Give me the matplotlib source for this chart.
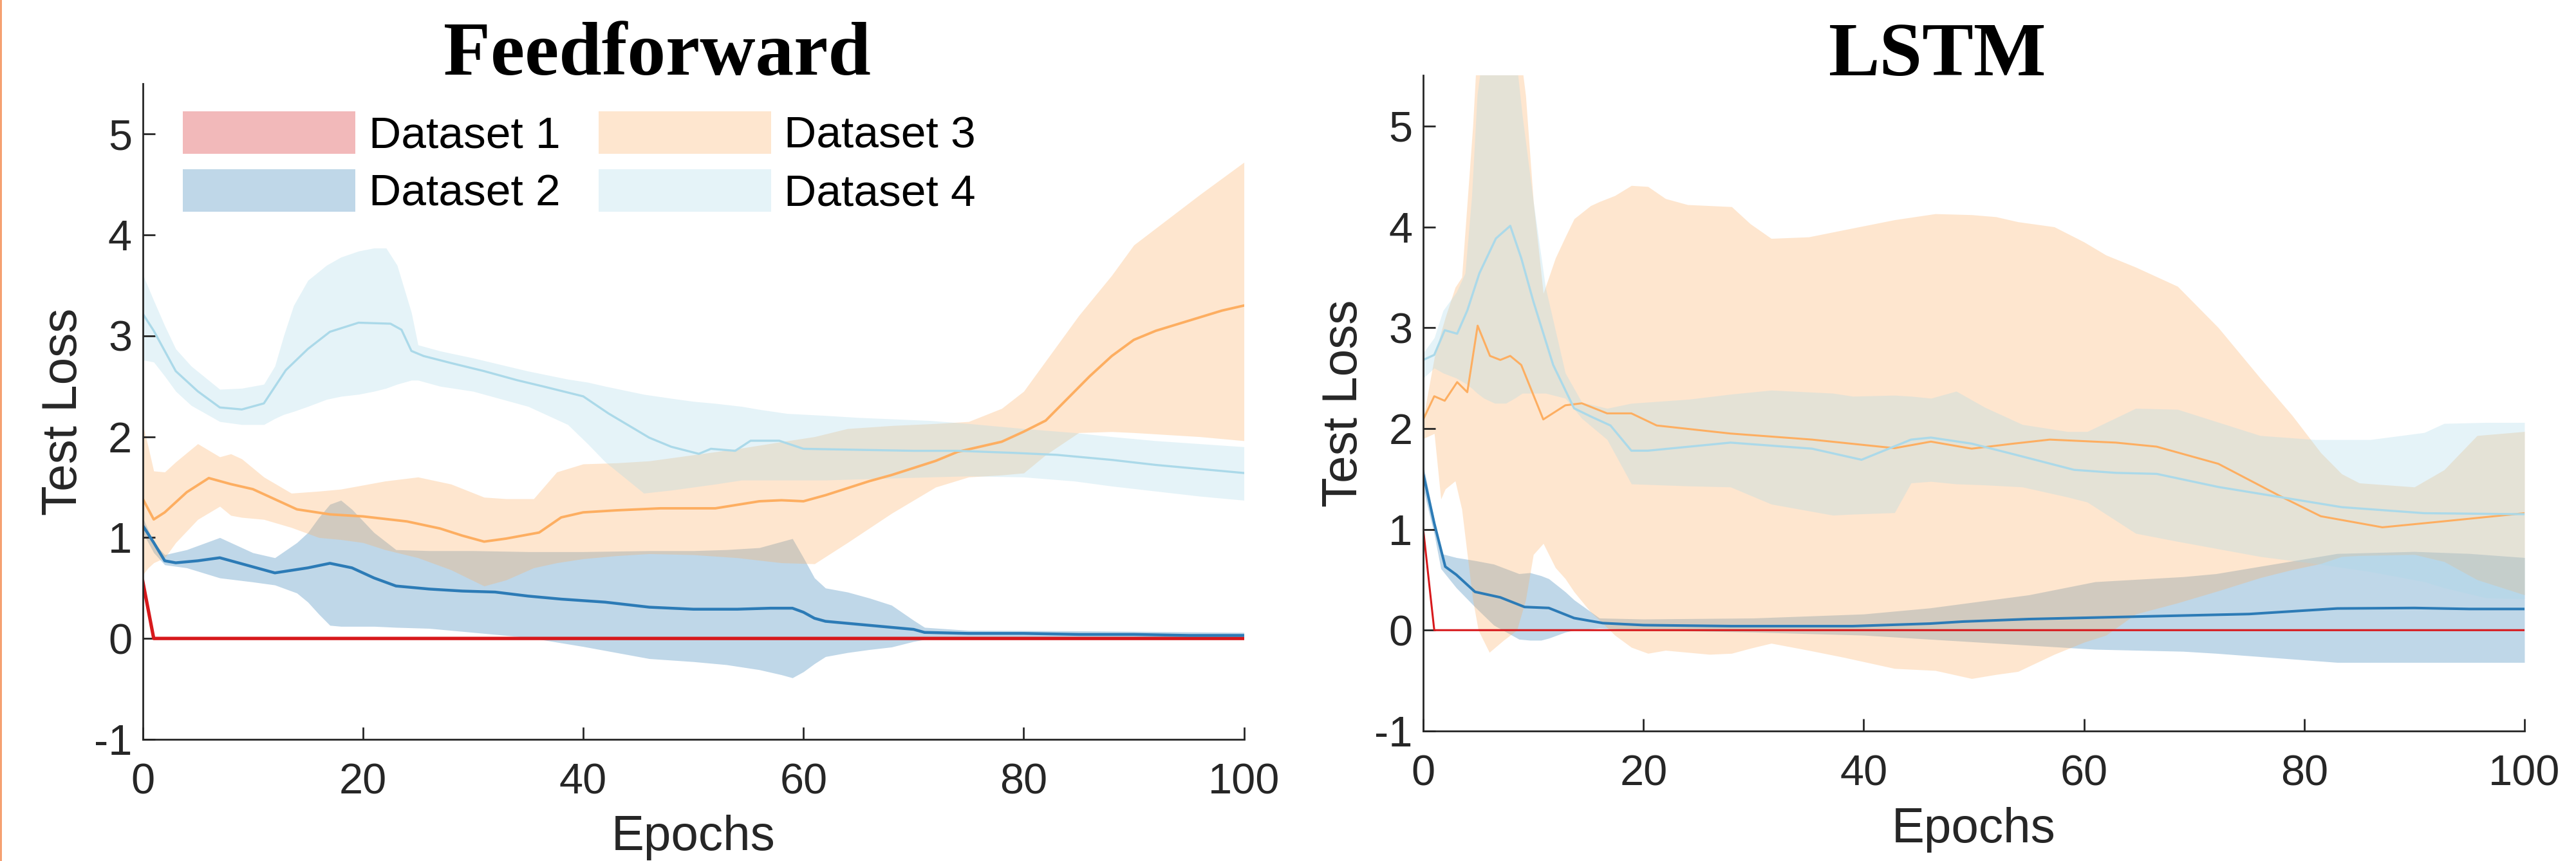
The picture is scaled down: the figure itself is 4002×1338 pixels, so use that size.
import matplotlib
matplotlib.use('Agg')
import matplotlib.pyplot as plt
from matplotlib.patches import Patch, Rectangle

plt.rcParams['font.family'] = ['Liberation Sans', 'DejaVu Sans']
plt.rcParams['axes.unicode_minus'] = False

# ---------------- data ----------------
DATASET_LABELS = ['Dataset 1', 'Dataset 2', 'Dataset 3', 'Dataset 4']
PANEL_TITLES = ['Feedforward', 'LSTM']
X_LABEL = 'Epochs'
Y_LABEL = 'Test Loss'
X_TICKS = [0, 20, 40, 60, 80, 100]
Y_TICKS = [-1, 0, 1, 2, 3, 4, 5]

# ---- Feedforward ----
FF_D1_EPOCHS = [0, 1, 100]
FF_D1_MEAN = [0.57, 0.0, 0.0]
FF_D1_LOWER = [0.57, 0.0, 0.0]
FF_D1_UPPER = [0.57, 0.0, 0.0]

FF_D2_EPOCHS = [0, 1, 2, 3, 5, 7, 9, 12, 15, 17, 19, 21, 23, 26, 29, 32, 35, 38, 42, 46, 50,
                54, 57, 59, 60, 61, 62, 64, 66, 68, 70, 71, 75, 80, 85, 90, 95, 100]
FF_D2_MEAN = [1.12, 0.95, 0.77, 0.75, 0.77, 0.80, 0.74, 0.65, 0.70, 0.745, 0.70, 0.60, 0.52, 0.49,
              0.47, 0.46, 0.42, 0.39, 0.36, 0.31, 0.29, 0.29, 0.30, 0.30, 0.26, 0.20, 0.17, 0.15,
              0.13, 0.11, 0.09, 0.06, 0.05, 0.05, 0.04, 0.04, 0.03, 0.03]
FF_D2_BAND_EPOCHS = [0, 1, 2, 4, 7, 10, 12, 14, 15, 16, 17, 18, 19, 21, 23, 26, 30, 35, 40, 46, 50,
                     53, 56, 58, 59, 60, 61, 62, 64, 66, 68, 70, 71, 75, 85, 100]
FF_D2_UPPER = [1.20, 0.95, 0.83, 0.88, 1.00, 0.85, 0.80, 0.95, 1.05, 1.20, 1.33, 1.37, 1.28, 1.05,
               0.88, 0.87, 0.87, 0.86, 0.86, 0.87, 0.87, 0.88, 0.90, 0.96, 0.99, 0.80, 0.60, 0.50,
               0.46, 0.40, 0.33, 0.18, 0.11, 0.08, 0.075, 0.06]
FF_D2_LOWER = [1.05, 0.85, 0.73, 0.70, 0.60, 0.56, 0.53, 0.45, 0.36, 0.24, 0.13, 0.12, 0.12, 0.12,
               0.11, 0.10, 0.06, 0.01, -0.08, -0.20, -0.23, -0.26, -0.31, -0.36, -0.39, -0.33, -0.25,
               -0.18, -0.14, -0.11, -0.085, -0.03, -0.01, 0.0, 0.01, 0.01]

FF_D3_EPOCHS = [0, 1, 2, 4, 6, 8, 10, 12, 14, 17, 20, 24, 27, 29, 31, 33, 36, 38, 40, 43, 47, 52,
                56, 58, 60, 62, 64, 66, 68, 70, 72, 74, 76, 78, 80, 82, 84, 86, 88, 90, 92, 95, 98, 100]
FF_D3_MEAN = [1.385, 1.18, 1.25, 1.45, 1.59, 1.53, 1.48, 1.38, 1.28, 1.23, 1.21, 1.16, 1.09, 1.02,
              0.96, 0.99, 1.05, 1.20, 1.25, 1.27, 1.29, 1.29, 1.36, 1.37, 1.36, 1.42, 1.49, 1.56,
              1.62, 1.69, 1.76, 1.85, 1.90, 1.95, 2.05, 2.16, 2.38, 2.60, 2.80, 2.96, 3.05, 3.15,
              3.25, 3.30]
FF_D3_BAND_EPOCHS = [0, 0.5, 1, 2, 3, 5, 7, 8, 9, 11, 13.5, 16, 18, 20, 22, 25, 28, 31, 33, 35.5,
                     37.6, 40, 43, 46, 50, 54, 58, 61, 64, 68, 72, 75, 78, 80, 82, 85, 88, 90, 93,
                     96, 100]
FF_D3_UPPER = [2.12, 1.90, 1.66, 1.65, 1.75, 1.93, 1.80, 1.83, 1.78, 1.60, 1.44, 1.46, 1.48, 1.52,
               1.56, 1.60, 1.53, 1.40, 1.385, 1.385, 1.65, 1.73, 1.74, 1.76, 1.82, 1.88, 1.95, 2.00,
               2.08, 2.11, 2.13, 2.15, 2.28, 2.45, 2.75, 3.20, 3.60, 3.90, 4.15, 4.40, 4.72]
FF_D3_LOWER = [0.63, 0.70, 0.75, 0.80, 0.95, 1.18, 1.31, 1.22, 1.20, 1.18, 1.10, 1.00, 0.98, 0.95,
               0.88, 0.80, 0.68, 0.52, 0.58, 0.70, 0.75, 0.79, 0.82, 0.84, 0.83, 0.80, 0.75, 0.74,
               0.95, 1.24, 1.50, 1.60, 1.62, 1.64, 1.82, 2.04, 2.05, 2.04, 2.02, 2.00, 1.96]

FF_D4_EPOCHS = [0, 1, 3, 5, 7, 9, 11, 13, 15, 17, 19.6, 22.5, 23.5, 24.4, 25.5, 28, 31, 34, 36.3,
                40, 42.3, 46, 48, 50.5, 51.6, 53.8, 55.2, 57.8, 60, 65, 70, 74, 79, 83, 88, 92, 96, 100]
FF_D4_MEAN = [3.22, 3.05, 2.65, 2.45, 2.29, 2.27, 2.33, 2.66, 2.87, 3.04, 3.13, 3.12, 3.06, 2.85,
              2.80, 2.73, 2.65, 2.56, 2.50, 2.40, 2.23, 1.99, 1.90, 1.83, 1.88, 1.86, 1.96, 1.96,
              1.88, 1.87, 1.86, 1.86, 1.84, 1.82, 1.77, 1.72, 1.68, 1.64]
FF_D4_BAND_EPOCHS = [0, 1, 2, 3, 4.4, 7, 9, 11, 12, 12.8, 13.7, 15, 16.7, 18, 19.6, 21, 22.1, 23.1,
                     24.4, 25, 27, 30, 35, 38.6, 40.4, 42, 45.5, 48, 50, 52, 54.4, 56, 58.5, 62, 65,
                     71.5, 75, 80, 84.6, 88, 92, 96, 100]
FF_D4_UPPER = [3.61, 3.35, 3.10, 2.87, 2.70, 2.47, 2.48, 2.52, 2.70, 3.00, 3.30, 3.55, 3.70, 3.78,
               3.84, 3.87, 3.87, 3.70, 3.23, 2.91, 2.85, 2.78, 2.65, 2.57, 2.54, 2.50, 2.42, 2.38,
               2.35, 2.33, 2.30, 2.27, 2.23, 2.21, 2.19, 2.16, 2.13, 2.08, 2.04, 2.00, 1.96, 1.93,
               1.90]
FF_D4_LOWER = [2.76, 2.74, 2.60, 2.45, 2.31, 2.15, 2.12, 2.12, 2.18, 2.22, 2.25, 2.30, 2.37, 2.40,
               2.42, 2.45, 2.48, 2.52, 2.56, 2.56, 2.50, 2.45, 2.30, 2.12, 1.93, 1.75, 1.44, 1.47,
               1.50, 1.53, 1.57, 1.57, 1.57, 1.57, 1.58, 1.60, 1.61, 1.60, 1.56, 1.51, 1.46, 1.41,
               1.37]

# ---- LSTM ----
LS_D1_EPOCHS = [0, 1, 100]
LS_D1_MEAN = [1.0, 0.0, 0.0]
LS_D1_LOWER = [1.0, 0.0, 0.0]
LS_D1_UPPER = [1.0, 0.0, 0.0]

LS_D2_EPOCHS = [0, 1, 2, 3, 4.7, 7, 9.2, 11.4, 13.7, 16.3, 20, 28, 39, 46, 49, 55, 65, 75, 83, 90,
                95, 100]
LS_D2_MEAN = [1.55, 1.06, 0.63, 0.55, 0.38, 0.325, 0.23, 0.22, 0.12, 0.07, 0.05, 0.04, 0.04, 0.065,
              0.085, 0.11, 0.135, 0.16, 0.215, 0.22, 0.21, 0.21]
LS_D2_BAND_EPOCHS = [0, 1, 1.6, 3, 4.7, 6.4, 8.7, 9.7, 10.7, 11.4, 12.9, 13.7, 16, 20, 30, 40, 46,
                     55, 61, 69, 72, 83, 90, 95, 100]
LS_D2_UPPER = [1.64, 1.10, 0.76, 0.72, 0.69, 0.655, 0.56, 0.57, 0.54, 0.51, 0.38, 0.30, 0.12, 0.11,
               0.12, 0.16, 0.22, 0.35, 0.48, 0.53, 0.56, 0.76, 0.78, 0.76, 0.72]
LS_D2_LOWER = [1.40, 0.95, 0.61, 0.42, 0.23, 0.05, -0.09, -0.10, -0.10, -0.08, -0.02, 0.0, 0.02,
               0.0, -0.02, -0.05, -0.09, -0.15, -0.19, -0.21, -0.23, -0.32, -0.32, -0.32, -0.32]

LS_D3_EPOCHS = [0, 1, 1.95, 3.08, 4, 4.94, 6.06, 7, 7.9, 8.9, 10.9, 12.9, 14.4, 16.7, 18.9, 21.2,
                27.9, 35.3, 42.8, 46.1, 49.8, 53.6, 56.9, 62.9, 66.6, 72.2, 77.8, 81.5, 87.1, 92.7,
                100]
LS_D3_MEAN = [2.09, 2.32, 2.275, 2.46, 2.36, 3.02, 2.72, 2.68, 2.72, 2.63, 2.09, 2.23, 2.25, 2.15,
              2.15, 2.03, 1.95, 1.89, 1.805, 1.87, 1.80, 1.85, 1.89, 1.86, 1.82, 1.65, 1.33, 1.13,
              1.02, 1.08, 1.16]
LS_D3_BAND_EPOCHS = [0, 1, 1.6, 2, 2.9, 3.5, 4.5, 5, 6, 7.3, 8.5, 9.3, 10, 10.9, 12, 12.9, 13.7,
                     15.2, 16, 17.4, 18.9, 20.4, 22, 24, 26, 28, 29.7, 31.6, 35, 38.2, 42.8, 46.5,
                     49.8, 52, 54, 57.3, 60, 62, 64.7, 68.5, 72.2, 76, 78.9, 81.5, 83.4, 85, 90,
                     92.7, 95.7, 100]
LS_D3_UPPER = [2.10, 2.70, 2.95, 3.10, 3.40, 3.50, 5.00, 6.00, 6.00, 6.00, 6.00, 5.30, 4.25, 3.34,
               3.69, 3.90, 4.08, 4.21, 4.25, 4.31, 4.41, 4.40, 4.28, 4.22, 4.21, 4.20, 4.03, 3.885,
               3.90, 3.97, 4.07, 4.13, 4.12, 4.10, 4.05, 4.00, 3.85, 3.72, 3.60, 3.41, 3.00, 2.50,
               2.13, 1.76, 1.55, 1.46, 1.42, 1.59, 1.93, 1.97]
LS_D3_LOWER = [1.90, 1.95, 1.30, 1.40, 1.48, 1.20, 0.30, 0.00, -0.22, -0.10, 0.00, 0.30, 0.75,
               0.86, 0.62, 0.51, 0.38, 0.18, 0.10, -0.05, -0.17, -0.23, -0.20, -0.22, -0.24, -0.23,
               -0.18, -0.13, -0.20, -0.27, -0.38, -0.40, -0.48, -0.44, -0.41, -0.24, -0.12, -0.05,
               0.16, 0.27, 0.39, 0.52, 0.60, 0.66, 0.73, 0.74, 0.75, 0.68, 0.50, 0.35]

LS_D4_EPOCHS = [0, 1, 1.95, 3.08, 4, 5.1, 6.6, 7.9, 8.9, 10, 11.8, 13.7, 15.2, 17, 18.9, 20.4,
                27.9, 35.3, 39.8, 44.3, 46.1, 49.8, 53.6, 59.1, 62.9, 66.6, 72.2, 77.8, 83.4, 90.9,
                100]
LS_D4_MEAN = [2.68, 2.73, 2.975, 2.94, 3.17, 3.54, 3.885, 4.01, 3.69, 3.26, 2.63, 2.20, 2.12, 2.03,
              1.78, 1.78, 1.86, 1.80, 1.69, 1.89, 1.91, 1.85, 1.745, 1.59, 1.56, 1.55, 1.42, 1.32,
              1.22, 1.16, 1.15]
LS_D4_BAND_EPOCHS = [0, 1, 1.8, 3, 3.8, 4.4, 4.9, 5.5, 6.5, 7.5, 8.3, 9, 10, 11.1, 12.9, 14.4,
                     16.7, 18.9, 24.1, 27.9, 31.6, 37.2, 39, 42.8, 44.3, 46.1, 48.4, 51, 54.4, 58.5,
                     60.3, 64.7, 68.5, 76, 81, 86, 90.9, 92.7, 96.5, 100]
LS_D4_UPPER = [2.75, 2.90, 3.17, 3.35, 3.54, 4.30, 5.31, 5.80, 6.00, 6.00, 5.80, 5.10, 4.25, 3.40,
               2.55, 2.26, 2.20, 2.25, 2.29, 2.34, 2.38, 2.35, 2.32, 2.33, 2.32, 2.30, 2.37, 2.21,
               2.04, 1.97, 1.97, 2.20, 2.19, 1.93, 1.89, 1.89, 1.96, 2.05, 2.06, 2.06]
LS_D4_LOWER = [2.50, 2.60, 2.55, 2.50, 2.45, 2.40, 2.35, 2.30, 2.25, 2.25, 2.30, 2.35, 2.35, 2.35,
               2.30, 2.10, 1.89, 1.45, 1.43, 1.42, 1.25, 1.14, 1.15, 1.165, 1.46, 1.475, 1.45, 1.44,
               1.42, 1.32, 1.27, 0.96, 0.88, 0.73, 0.66, 0.58, 0.48, 0.42, 0.32, 0.31]

# ---------------- style ----------------
COLORS = ['#d7191c', '#2c7bb6', '#fdae61', '#abd9e9']
FILL_ALPHA = 0.3
AX_COLOR = '#262626'
LINE_WIDTHS = [[3.8, 3.2, 2.8, 2.4], [2.2, 2.9, 2.2, 2.4]]

panels = [
    [(FF_D1_EPOCHS, FF_D1_MEAN, FF_D1_EPOCHS, FF_D1_LOWER, FF_D1_UPPER),
     (FF_D2_EPOCHS, FF_D2_MEAN, FF_D2_BAND_EPOCHS, FF_D2_LOWER, FF_D2_UPPER),
     (FF_D3_EPOCHS, FF_D3_MEAN, FF_D3_BAND_EPOCHS, FF_D3_LOWER, FF_D3_UPPER),
     (FF_D4_EPOCHS, FF_D4_MEAN, FF_D4_BAND_EPOCHS, FF_D4_LOWER, FF_D4_UPPER)],
    [(LS_D1_EPOCHS, LS_D1_MEAN, LS_D1_EPOCHS, LS_D1_LOWER, LS_D1_UPPER),
     (LS_D2_EPOCHS, LS_D2_MEAN, LS_D2_BAND_EPOCHS, LS_D2_LOWER, LS_D2_UPPER),
     (LS_D3_EPOCHS, LS_D3_MEAN, LS_D3_BAND_EPOCHS, LS_D3_LOWER, LS_D3_UPPER),
     (LS_D4_EPOCHS, LS_D4_MEAN, LS_D4_BAND_EPOCHS, LS_D4_LOWER, LS_D4_UPPER)],
]

W, H = 4002, 1338
fig = plt.figure(figsize=(W / 100, H / 100), dpi=100)

axes_rects = [[0.0554, 0.1413, 0.4275, 0.7616],
              [0.5525, 0.1510, 0.4275, 0.7612]]
title_x = [0.2550, 0.7521]

for p, rect in enumerate(axes_rects):
    ax = fig.add_axes(rect)
    for d, (ex, mean, bx, lo, up) in enumerate(panels[p]):
        ax.fill_between(bx, lo, up, color=COLORS[d], alpha=FILL_ALPHA, linewidth=0)
        ax.plot(ex, mean, color=COLORS[d], linewidth=LINE_WIDTHS[p][d], solid_joinstyle='round')
    ax.set_xlim(0, 100)
    ax.set_ylim(-1, 5.5)
    ax.set_xticks(X_TICKS)
    ax.set_yticks(Y_TICKS)
    for s in ['top', 'right']:
        ax.spines[s].set_visible(False)
    for s in ['left', 'bottom']:
        ax.spines[s].set_linewidth(2)
        ax.spines[s].set_color(AX_COLOR)
    ax.tick_params(direction='in', length=13.7, width=2, colors=AX_COLOR, labelsize=48)
    ax.tick_params(axis='x', pad=26)
    ax.tick_params(axis='y', pad=12)
    ax.set_xlabel(X_LABEL, fontsize=55, color=AX_COLOR, labelpad=14)
    ax.set_ylabel(Y_LABEL, fontsize=55, color=AX_COLOR, labelpad=8)
    fig.text(title_x[p], 1 - 117 / H, PANEL_TITLES[p], ha='center', va='baseline',
             fontsize=86, fontweight='bold', family='Liberation Serif', color='black')
    if p == 0:
        handles = [Patch(facecolor=c, alpha=FILL_ALPHA, edgecolor='none') for c in COLORS]
        ax.legend(handles, DATASET_LABELS, loc='upper left', bbox_to_anchor=(0.0364, 0.958),
                  ncol=2, frameon=False, borderaxespad=0, borderpad=0, fontsize=50,
                  handlelength=3.86, handleheight=1.086, handletextpad=0.3,
                  columnspacing=0.85, labelspacing=0.285)

fig.add_artist(Rectangle((0, 0), 3 / W, 1, transform=fig.transFigure,
                         facecolor='#f5a070', edgecolor='none'))

fig.savefig('out.png', dpi=100)
